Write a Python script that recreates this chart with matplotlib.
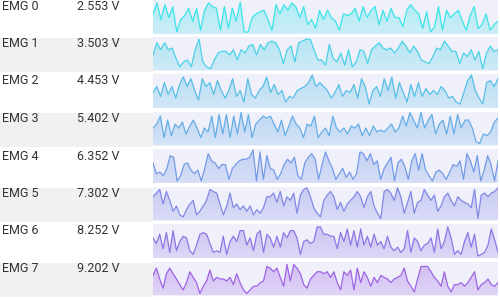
import matplotlib
matplotlib.use("Agg")
import matplotlib.pyplot as plt
from matplotlib.patches import Rectangle
import numpy as np

labels = ["EMG 0", "EMG 1", "EMG 2", "EMG 3", "EMG 4", "EMG 5", "EMG 6", "EMG 7"]
voltages = ["2.553 V", "3.503 V", "4.453 V", "5.402 V", "6.352 V", "7.302 V", "8.252 V", "9.202 V"]

emg0 = [61,94,44,89,50,83,6,44,56,78,39,78,11,72,94,83,78,11,83,17,78,39,97,6,6,50,61,67,72,44,11,89,61,89,72,94,83,50,83,28,44,17,72,44,72,50,39,11,61,56,61,78,39,83,50,72,83,28,72,39,78,50,50,22,72,89,72,61,17,67,6,22,83,11,72,50,61,72,39,11,56,83,17,28,61,11,28,39]
emg1 = [47,84,63,84,63,68,37,11,26,32,11,63,95,26,11,5,32,53,58,58,47,63,32,63,53,74,79,47,79,63,84,89,84,63,21,63,74,26,84,89,95,95,63,32,32,16,79,37,26,53,16,63,11,26,63,58,21,63,74,84,68,63,68,53,68,89,74,53,74,58,32,26,21,42,68,63,89,74,58,58,21,53,42,63,32,58,5,53,74,58,63]
emg2 = [47,65,35,77,41,65,30,71,94,65,89,53,24,89,65,77,41,83,53,30,53,89,35,53,18,89,41,30,53,65,94,47,71,41,53,18,35,30,53,59,65,77,100,65,77,65,53,30,47,71,35,53,47,71,30,89,65,12,53,65,35,89,53,94,30,77,47,18,71,35,77,35,59,41,53,41,65,53,30,35,18,12,47,83,100,53,30,12,77,83,65,89]
emg3 = [53,65,89,24,77,30,65,53,71,35,59,77,53,24,53,41,89,24,94,35,94,24,89,35,100,41,94,24,65,77,89,83,89,65,41,77,30,59,89,65,53,24,65,59,89,24,41,53,30,89,53,41,53,35,59,53,65,30,53,30,59,41,47,41,53,65,41,53,89,59,100,77,53,100,53,77,94,35,65,77,35,89,35,94,53,77,77,53,12,6,35,30,41,71,83]
emg4 = [61,28,33,22,44,83,78,6,22,56,61,39,28,39,6,44,89,67,61,44,56,56,11,44,56,67,72,72,78,100,6,94,11,83,44,39,11,28,56,72,61,78,22,11,61,78,89,72,11,56,94,67,44,11,28,44,17,33,11,28,94,89,67,89,56,67,11,44,61,78,6,61,72,50,11,67,89,39,89,39,22,6,33,39,28,11,33,56,50,67,11,89,67,33,83,6,39,83,56,6,67]
emg5 = [72,83,94,50,88,61,28,44,17,11,33,50,61,17,28,44,61,94,88,83,50,17,44,83,39,50,33,44,28,44,17,33,22,39,72,72,83,55,88,44,72,61,83,22,77,94,99,72,39,22,11,61,77,88,72,33,55,28,50,61,72,88,72,39,72,88,44,22,6,88,94,83,61,99,72,22,55,88,22,55,61,94,77,61,77,28,44,72,83,61,44,72,61,55,50,39,94,6,77,83,72,83,88,99]
emg6 = [61,44,72,28,77,17,83,22,50,66,61,22,11,39,72,77,72,44,17,22,17,66,11,50,66,50,83,83,39,61,22,72,83,17,72,61,33,66,33,77,61,83,83,61,11,50,55,44,50,94,94,72,72,66,66,28,77,50,88,39,83,33,88,39,66,33,72,39,50,28,66,33,22,33,17,28,83,17,61,50,22,39,44,61,17,88,28,50,94,61,11,22,11,50,77,33,72,6,11,17,39,88,55,17]
emg7 = [61,83,50,22,66,83,66,50,33,17,39,72,55,39,6,28,44,77,44,55,50,50,44,55,33,66,39,17,6,17,28,28,39,44,88,83,72,83,55,28,94,44,94,83,66,33,22,50,61,72,72,66,72,55,72,39,17,72,61,77,17,83,39,72,55,28,55,39,61,55,50,39,50,55,61,83,44,28,11,50,88,88,88,72,55,44,28,72,28,11,33,33,39,28,39,55,72,17,33,39,50,33,28,39]
series = [emg0, emg1, emg2, emg3, emg4, emg5, emg6, emg7]

plt.rcParams['font.family'] = ['Roboto', 'DejaVu Sans']

W, H = 500, 300
fig = plt.figure(figsize=(5, 3), dpi=100)
fig.patch.set_facecolor("white")

row_h = 37.5
c0 = np.array([60, 228, 232]) / 255.0
c1 = np.array([158, 100, 228]) / 255.0

panel_x0, panel_w = 153, 345
for k in range(8):
    y0 = k * row_h
    if k % 2 == 1:
        fig.patches.append(Rectangle((0, 1 - (y0 + 34.5) / H), 153 / W, 34.5 / H,
                                     transform=fig.transFigure, facecolor="#f1f1f1",
                                     edgecolor="none", zorder=0))
    fig.text(2 / W, 1 - (y0 + 6) / H, labels[k], fontsize=9, color="#333333",
             va="center", ha="left")
    fig.text(77 / W, 1 - (y0 + 6) / H, voltages[k], fontsize=9, color="#333333",
             va="center", ha="left")

    t = k / 7.0
    col = c0 * (1 - t) + c1 * t
    top = max(y0 - 1, 0)
    ph = 34
    ax = fig.add_axes([panel_x0 / W, 1 - (top + ph) / H, panel_w / W, ph / H])
    ax.set_facecolor("#f0f0fb")
    vals = series[k]
    xs = np.arange(len(vals))
    n = len(vals)
    ymax = 103
    poly = ax.fill_between(xs, 0, vals, color="none", linewidth=0)
    grad = np.zeros((64, 2, 4))
    grad[..., :3] = col
    alphas = np.linspace(0.38, 0.2, 64)  # top -> bottom
    grad[..., 3] = alphas[:, None]
    im = ax.imshow(grad, extent=[0, n - 1, 0, ymax], origin="upper",
                   aspect="auto", interpolation="bilinear", zorder=1)
    im.set_clip_path(poly.get_paths()[0], transform=ax.transData)
    ax.plot(xs, vals, color=tuple(col), linewidth=0.9, zorder=2)
    ax.set_xlim(0, n - 1)
    ax.set_ylim(0, ymax)
    ax.set_xticks([])
    ax.set_yticks([])
    for s in ax.spines.values():
        s.set_visible(False)

fig.savefig("out.png", dpi=100)
